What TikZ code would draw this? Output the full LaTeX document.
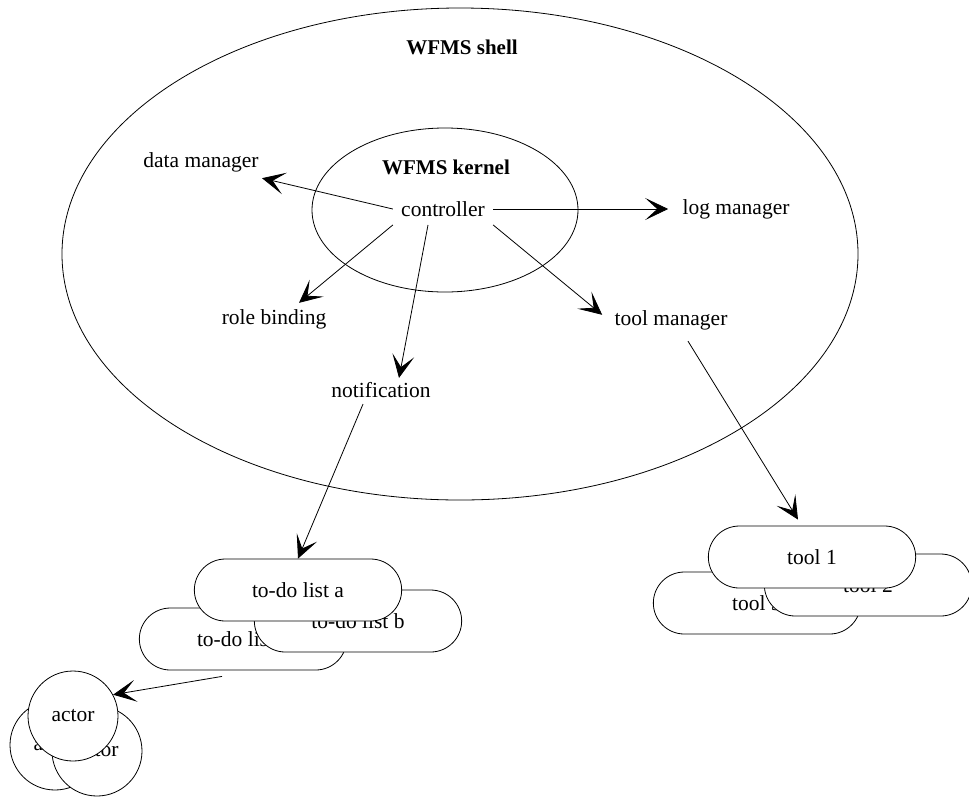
\documentclass[tikz,border=0pt]{standalone}
\usepackage{fontspec}
\setmainfont{Liberation Serif}
\usetikzlibrary{arrows.meta,shapes.misc}

\begin{document}
\begin{tikzpicture}[x=1pt,y=-1pt,line width=0.8pt,
	font=\fontsize{21.5}{25}\selectfont,
	lbl/.style={inner sep=6pt},
	flow/.style={-{Stealth[length=23pt,width=22pt,inset=12pt]}},
	listbox/.style={draw,fill=white,rounded rectangle,minimum width=214pt,minimum height=62pt},
	actorcirc/.style={draw,fill=white,circle,minimum size=90pt,inner sep=0pt}]

	\useasboundingbox (0,0) rectangle (969,796);

	% WFMS shell and kernel
	\draw (460,254) ellipse [x radius=398pt, y radius=246pt];
	\draw (445,210) ellipse [x radius=133pt, y radius=82pt];
	\node[lbl,font=\fontsize{21}{25}\selectfont\bfseries] (shell) at (462,47) {WFMS shell};
	\node[lbl,font=\fontsize{21}{25}\selectfont\bfseries] (kernel) at (446,167) {WFMS kernel};

	% components
	\node[lbl,inner sep=8pt] (ctrl) at (443,209) {controller};
	\node[lbl] (data) at (201,162) {data manager};
	\node[lbl,inner sep=8pt] (log) at (736,209) {log manager};
	\node[lbl] (role) at (274,319) {role binding};
	\node[lbl] (toolman) at (671,320) {tool manager};
	\node[lbl] (notif) at (381,390) {notification};

	% to-do lists
	\node[listbox] (todoc) at (243,639) {to-do list c};
	\node[listbox] (todob) at (358,621) {to-do list b};
	\node[listbox] (todoa) at (298,590) {to-do list a};

	% tools
	\node[listbox] (tool3) at (757,603) {tool 3};
	\node[listbox] (tool2) at (868,585) {tool 2};
	\node[listbox] (tool1) at (812,557) {tool 1};

	% actors
	\node[actorcirc] (actorb) at (55,745) {actor};
	\node[actorcirc] (actorc) at (97,751) {actor};
	\node[actorcirc] (actora) at (73,716) {actor};

	% arrows out of the controller
	\draw[flow] (ctrl.west) -- ([xshift=-3pt]data.south east);
	\draw[flow] (ctrl.east) -- ([xshift=-6pt]log.west);
	\draw[flow] (ctrl.south west) -- ([xshift=25pt]role.north);
	\draw[flow] ([xshift=-15pt]ctrl.south) -- ([xshift=18pt,yshift=-2pt]notif.north);
	\draw[flow] (ctrl.south east) -- ([xshift=-6pt,yshift=-11pt]toolman.north west);

	% down to lists, tools and actors
	\draw[flow] ([xshift=-18pt]notif.south) -- (todoa.north);
	\draw[flow] ([xshift=17pt,yshift=-5pt]toolman.south) -- ([xshift=-14pt,yshift=6pt]tool1.north);
	\draw[flow] ([xshift=-21pt,yshift=-6pt]todoc.south) -- (actora.28);

\end{tikzpicture}
\end{document}
